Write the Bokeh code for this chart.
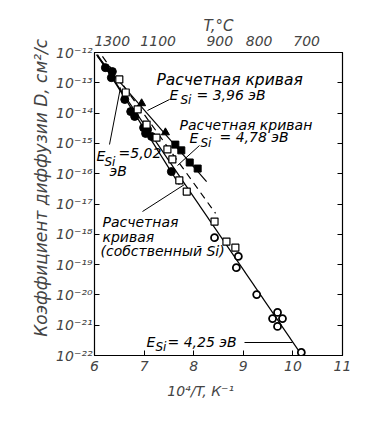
import numpy as np
from bokeh.plotting import figure
from bokeh.models import (LogAxis, LinearAxis, FixedTicker, CustomJSTickFormatter,
                          ColumnDataSource)
from bokeh.core.properties import value
from bokeh.embed import file_html
from bokeh.resources import INLINE

# ---- data: x = 10^4/T (K^-1), log10 D (cm^2/s) ----
fc_x = [6.22, 6.36, 6.34, 6.61, 6.73, 6.81, 6.99, 7.03, 7.07, 7.15, 7.55]
fc_logD = [-12.50, -12.63, -12.83, -13.55, -13.95, -14.11, -14.48, -14.67, -14.54, -14.77, -15.93]
tri_x = [6.95, 7.43]
tri_logD = [-13.68, -14.64]
fs_x = [7.63, 7.75, 7.92, 8.08]
fs_logD = [-15.04, -15.23, -15.63, -15.83]
os_x = [6.50, 6.63, 6.87, 7.05, 7.25, 7.47, 7.57, 7.71, 7.86, 8.42, 8.66, 8.84]
os_logD = [-12.89, -13.32, -13.88, -14.38, -14.81, -15.20, -15.53, -16.22, -16.59, -17.58, -18.24, -18.44]
oc_x = [8.42, 8.90, 8.86, 9.27, 9.59, 9.69, 9.79, 9.69, 10.17]
oc_logD = [-18.11, -18.73, -19.10, -19.99, -20.78, -20.58, -20.78, -21.04, -21.90]

# fitted / computed lines (end points)
l502_x = [6.06, 7.71]; l502_logD = [-12.07, -16.36]
l396_x = [6.06, 8.26]; l396_logD = [-12.13, -16.26]
l478_x = [6.16, 8.44]; l478_logD = [-12.13, -17.31]
l425_x = [6.04, 10.17]; l425_logD = [-12.07, -21.97]

x_ticks = [6, 7, 8, 9, 10, 11]
y_exps = list(range(-22, -11))
t_c_ticks = [1300, 1100, 900, 800, 700]

FONT = "DejaVu Sans"

def D(v):
    return list(10.0 ** np.array(v))

# helper for annotation placement (pixel -> data)
def X(px):
    return 6 + (px - 95) / 49.6

def Y(py):
    return 10 ** (-12 - (py - 53) / 30.3)

p = figure(width=362, height=407, x_range=(6, 11), y_range=(1e-22, 1e-12),
           y_axis_type="log", output_backend="svg", toolbar_location=None,
           min_border_left=94, min_border_right=20, min_border_top=52,
           min_border_bottom=52, background_fill_color="white")
p.grid.visible = False
p.outline_line_color = "black"
p.outline_line_width = 1.2

sup = """const s={"-":"\u207b","0":"\u2070","1":"\u00b9","2":"\u00b2","3":"\u00b3","4":"\u2074","5":"\u2075","6":"\u2076","7":"\u2077","8":"\u2078","9":"\u2079"};
const e=Math.round(Math.log10(tick));
return "10"+String(e).split("").map(c=>s[c]).join("");"""

# left axis
ya = p.yaxis[0]
ya.ticker = FixedTicker(ticks=[10.0 ** e for e in y_exps])
ya.formatter = CustomJSTickFormatter(code=sup)
ya.major_tick_in = 5
ya.major_tick_out = 0
ya.minor_tick_line_color = None
ya.major_label_standoff = 2
ya.axis_label = "\u00a0" * 7 + "Коэффициент диффузии  D, см²/с"
ya.axis_label_standoff = 2
ya.axis_label_text_font = FONT
ya.axis_label_text_font_style = "italic"
ya.axis_label_text_font_size = "17px"
ya.major_label_text_font = FONT
ya.major_label_text_font_style = "italic"
ya.major_label_text_font_size = "14px"

# bottom axis
xa = p.xaxis[0]
xa.ticker = FixedTicker(ticks=x_ticks)
xa.major_tick_in = 5
xa.major_tick_out = 0
xa.minor_tick_line_color = None
xa.major_label_standoff = 5
xa.axis_label = "10⁴/T,  К⁻¹" + "\u00a0" * 7
xa.axis_label_standoff = 9
xa.axis_label_text_font = FONT
xa.axis_label_text_font_style = "italic"
xa.axis_label_text_font_size = "14px"
xa.major_label_text_font = FONT
xa.major_label_text_font_style = "italic"
xa.major_label_text_font_size = "14px"

# top axis: temperature, deg C
top = LinearAxis(ticker=FixedTicker(ticks=[1e4 / (t + 273) for t in t_c_ticks]),
                 formatter=CustomJSTickFormatter(code="return String(Math.round(1e4/tick-273));"),
                 axis_label="T,°C", axis_label_standoff=-2,
                 axis_label_text_font=FONT, axis_label_text_font_style="italic",
                 axis_label_text_font_size="15px",
                 major_label_text_font=FONT, major_label_text_font_style="italic",
                 major_label_text_font_size="14px", major_label_standoff=1,
                 major_tick_line_color=None, minor_tick_line_color=None)
p.add_layout(top, "above")

# right axis: ticks only
right = LogAxis(ticker=FixedTicker(ticks=[10.0 ** e for e in y_exps]),
                major_label_text_color=None, major_label_text_font_size="6px",
                major_tick_in=5, major_tick_out=0,
                minor_tick_line_color=None, major_label_standoff=0)
p.add_layout(right, "right")

# lines
p.line(l425_x, D(l425_logD), line_color="black", line_width=1.2)
p.line(l502_x, D(l502_logD), line_color="black", line_width=1.2)
p.line(l396_x, D(l396_logD), line_color="black", line_width=1.2)
p.line(l478_x, D(l478_logD), line_color="black", line_width=1.2, line_dash="7 5")

# points
p.scatter(fc_x, D(fc_logD), marker="circle", size=8, fill_color="black", line_color="black")
p.scatter(tri_x, D(tri_logD), marker="triangle", size=8, fill_color="black", line_color="black")
p.scatter(fs_x, D(fs_logD), marker="square", size=7, fill_color="black", line_color="black")
p.scatter(os_x, D(os_logD), marker="square", size=7, fill_color="white", line_color="black", line_width=1.2)
p.scatter(oc_x, D(oc_logD), marker="circle", size=7, fill_color="white", line_color="black", line_width=1.8)

# pointer lines
px0 = [170, 200, 110, 143, 245]
py0 = [100, 146, 145, 212, 343]
px1 = [148, 178, 121, 185, 293]
py1 = [111, 166, 88, 185, 343]
p.segment([X(v) for v in px0], [Y(v) for v in py0], [X(v) for v in px1], [Y(v) for v in py1],
          line_color="black", line_width=1)

# annotation texts (text, left px, middle px)
wide = [("Расчетная кривая", 157, 80)]
big = [("E", 170, 95), ("= 3,96 эВ", 197, 95),
       ("Расчетная криван", 180, 125), ("E", 190, 138), ("= 4,78 эВ", 220, 137),
       ("E", 97, 156), ("=5,02", 119, 153), ("эВ", 110, 171),
       ("Расчетная", 103, 222), ("кривая", 103, 237), ("(собственный Si)", 101, 251),
       ("E", 147, 342), ("= 4,25 эВ", 168, 342)]
small = [("Si", 181, 100), ("Si", 201, 143), ("Si", 105, 162), ("Si", 156, 347)]

for items, size in ((wide, "15.5px"), (big, "14px"), (small, "12px")):
    src = ColumnDataSource(dict(x=[X(a[1]) for a in items], y=[Y(a[2]) for a in items],
                                t=[a[0] for a in items]))
    p.text(x="x", y="y", text="t", source=src, text_font=value(FONT),
           text_font_style="italic", text_font_size=size, text_baseline="middle",
           text_align="left", text_color="black")

open("out.html", "w").write(file_html(p, INLINE))
